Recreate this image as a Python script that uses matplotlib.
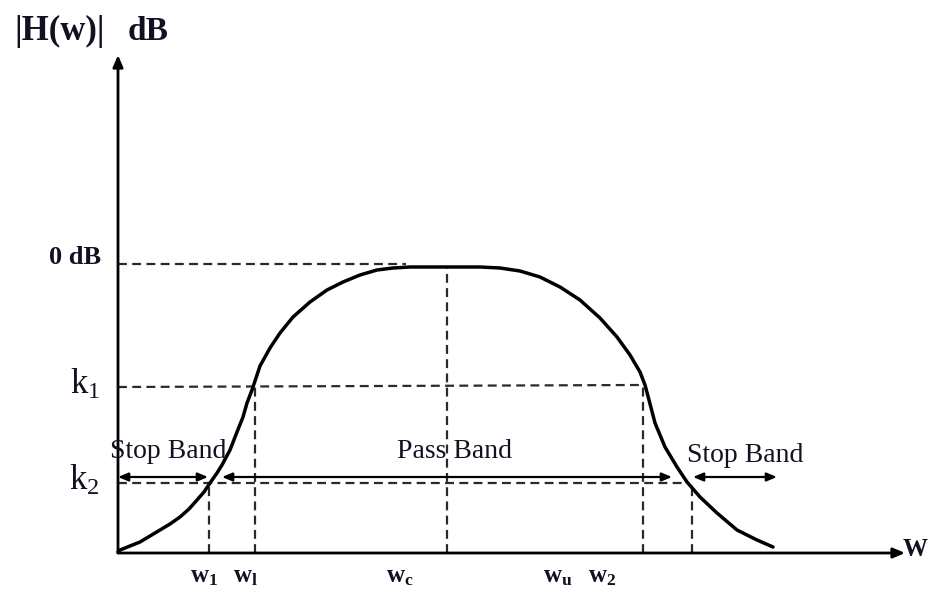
import matplotlib
matplotlib.use("Agg")
import matplotlib.pyplot as plt

plt.rcParams['mathtext.fontset'] = 'custom'
plt.rcParams['mathtext.rm'] = 'Liberation Serif'
plt.rcParams['mathtext.it'] = 'Liberation Serif:italic'
plt.rcParams['mathtext.bf'] = 'Liberation Serif:bold'
plt.rcParams['font.family'] = ['Liberation Serif', 'DejaVu Serif']

# ---- data (schematic band-pass response) ----
curve_w = [0, 2, 12, 22, 32, 42, 52, 62, 71, 79, 86, 92, 99, 104, 112, 119, 125, 129, 134, 138, 142, 152,
           162, 175, 192, 209, 225, 242, 259, 275, 292, 362, 382, 402, 422, 442, 462,
           482, 499, 512, 522, 527, 531, 537, 547, 559, 569, 582, 599, 619, 639, 655]
curve_h = [1, 3, 7, 11, 17, 23, 29, 36, 44, 53, 61, 70, 80, 88, 103, 121, 136, 150, 163, 175, 187, 205,
           220, 236, 251, 263, 271, 278, 283, 285, 286, 286, 285, 282, 276, 266, 253,
           235, 216, 198, 181, 168, 153, 130, 106, 86, 71, 56, 40, 23, 13, 6]

level_0db = 289
level_k1 = 166
level_k2 = 70
band_arrow_level = 76

freq_w1a = 91
freq_w1b = 137
freq_wc = 329
freq_wu = 525
freq_w2 = 574

x_max = 787
y_max = 498

ORIGIN_X, ORIGIN_Y = 118, 553
W, H = 929, 592

fig = plt.figure(figsize=(W / 100, H / 100), dpi=100)
ax = fig.add_axes([0, 0, 1, 1])
ax.set_xlim(-ORIGIN_X, W - ORIGIN_X)
ax.set_ylim(ORIGIN_Y - H, ORIGIN_Y)
ax.axis('off')

dash_kw = dict(color='#2a2a2a', lw=1.6, dashes=(4.0, 2.4))

# dashed reference lines
ax.plot([0, 288], [level_0db, level_0db], **dash_kw)
ax.plot([0, freq_wu - 3], [level_k1, level_k1 + 2], **dash_kw)
ax.plot([0, 565], [level_k2, level_k2], **dash_kw)
ax.plot([freq_w1a, freq_w1a], [0, level_k2], **dash_kw)
ax.plot([freq_w1b, freq_w1b], [0, level_k1], **dash_kw)
ax.plot([freq_wc, freq_wc], [0, 286], **dash_kw)
ax.plot([freq_wu, freq_wu], [0, level_k1 + 2], **dash_kw)
ax.plot([freq_w2, freq_w2], [0, level_k2], **dash_kw)

# axes with arrows
ax.annotate('', xy=(0, y_max), xytext=(0, 0),
            arrowprops=dict(arrowstyle='-|>,head_length=0.7,head_width=0.3', color='black', lw=2.0,
                            shrinkA=0, shrinkB=0))
ax.annotate('', xy=(x_max, 0), xytext=(0, 0),
            arrowprops=dict(arrowstyle='-|>,head_length=0.7,head_width=0.3', color='black', lw=2.0,
                            shrinkA=0, shrinkB=0))

# response curve
ax.plot(curve_w, curve_h, color='black', lw=2.5, solid_capstyle='round', solid_joinstyle='round')

# band arrows
arr = dict(arrowstyle='<|-|>,head_length=0.6,head_width=0.25', color='black', lw=1.6,
           shrinkA=0, shrinkB=0)
ax.annotate('', xy=(90, band_arrow_level), xytext=(0, band_arrow_level), arrowprops=arr)
ax.annotate('', xy=(554, band_arrow_level), xytext=(104, band_arrow_level), arrowprops=arr)
ax.annotate('', xy=(659, band_arrow_level), xytext=(575, band_arrow_level), arrowprops=arr)

txt = '#111122'
# labels
ax.text(-104, 522, '|H(w)|', fontsize=25, fontweight='bold', color=txt, va='center', ha='left')
ax.text(10, 522, 'dB', fontsize=24, fontweight='bold', color=txt, va='center', ha='left')
ax.text(-17, level_0db + 7, '0 dB', fontsize=19, fontweight='bold', color=txt, va='center', ha='right')
ax.text(-18, level_k1 + 2, r'$\mathrm{k_1}$', fontsize=25, color=txt, va='center', ha='right')
ax.text(-18, level_k2 + 2, r'$\mathrm{k_2}$', fontsize=25, color=txt, va='center', ha='right')
ax.text(-8, 101, 'Stop Band', fontsize=20, color=txt, va='center', ha='left')
ax.text(337, 101, 'Pass Band', fontsize=20, color=txt, va='center', ha='center')
ax.text(569, 98, 'Stop Band', fontsize=20, color=txt, va='center', ha='left')

xl = [(freq_w1a - 5, r'$\mathbf{w_1}$'), (freq_w1b - 10, r'$\mathbf{w_l}$'),
      (freq_wc - 47, r'$\mathbf{w_c}$'), (freq_wu - 85, r'$\mathbf{w_u}$'),
      (freq_w2 - 90, r'$\mathbf{w_2}$')]
for x, s in xl:
    ax.text(x, -24, s, fontsize=18, color=txt, va='center', ha='center')

ax.text(810, 3, 'W', fontsize=18, fontweight='bold', color=txt, va='center', ha='right')

fig.savefig('out.png', dpi=100)
